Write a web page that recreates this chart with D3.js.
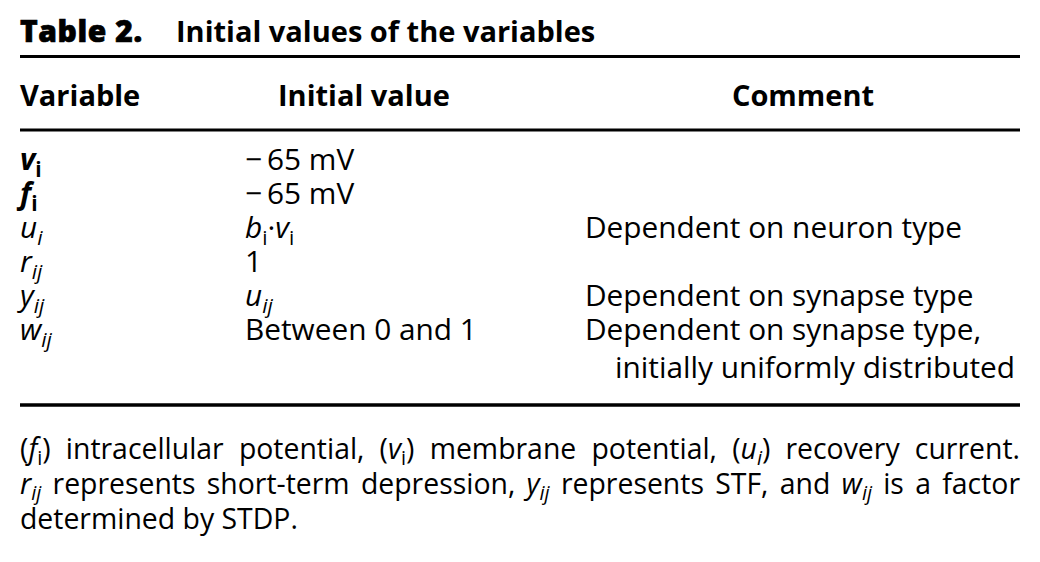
<!DOCTYPE html>
<html>
<head>
<meta charset="utf-8">
<script src="https://cdn.jsdelivr.net/npm/d3@7"></script>
<style>
  html, body { margin: 0; padding: 0; background: #fff; }
  svg text { font-family: "Open Sans", "Noto Sans", sans-serif; fill: #000; }
</style>
</head>
<body>
<div id="table2"></div>
<script>
(function()
{
    "use strict";

    // table content, small markup: <b> bold, <i> italic, <sub> subscript
    var titleLabel = "Table 2.";
    var titleText = "Initial values of the variables";
    var headers = ["Variable", "Initial value", "Comment"];

    var variables = [
        "<b><i>v</i><sub>i</sub></b>",
        "<b><i>f</i><sub>i</sub></b>",
        "<i>u<sub>i</sub></i>",
        "<i>r<sub>ij</sub></i>",
        "<i>y<sub>ij</sub></i>",
        "<i>w<sub>ij</sub></i>"
    ];
    var initialValues = [
        "\u2212\u200965 mV",
        "\u2212\u200965 mV",
        "<i>b</i><sub>i</sub>\u00b7<i>v</i><sub>i</sub>",
        "1",
        "<i>u<sub>ij</sub></i>",
        "Between 0 and 1"
    ];
    var comments = [
        [],
        [],
        ["Dependent on neuron type"],
        [],
        ["Dependent on synapse type"],
        ["Dependent on synapse type,", "initially uniformly distributed"]
    ];

    var footnoteLines = [
        "(<i>f</i><sub>i</sub>) intracellular potential, (<i>v</i><sub>i</sub>) membrane potential, (<i>u<sub>i</sub></i>) recovery current.",
        "<i>r<sub>ij</sub></i> represents short-term depression, <i>y<sub>ij</sub></i> represents STF, and <i>w<sub>ij</sub></i> is a factor",
        "determined by STDP."
    ];

    // #########################################################################
    var width = 1040, height = 562;
    var left = 20, right = 1020;
    var fs = 29.8;

    var svg = d3.select("#table2")
                .append("svg")
                .attr("width", width)
                .attr("height", height);

    // columns and rows
    var xCol = d3.scaleOrdinal()
                 .domain(["var", "val", "com"])
                 .range([left, 245, 585]);

    var yRow = d3.scaleLinear()
                 .domain([0, variables.length - 1])
                 .range([170, 340]);

    var yNote = d3.scaleLinear()
                  .domain([0, footnoteLines.length - 1])
                  .range([459, 529]);

    // parse the small markup into styled pieces
    function parse(str)
    {
        var st = {b: false, i: false, sub: false};
        var out = [];
        str.split(/(<\/?[a-z]+>)/).forEach(function(tok) {
            if (!tok) return;
            var m = tok.match(/^<(\/?)([a-z]+)>$/);
            if (m) { st[m[2]] = !m[1]; return; }
            out.push({t: tok, b: st.b, i: st.i, sub: st.sub});
        });
        return out;
    }

    function rich(textSel, str, size)
    {
        var shift = size * 0.22;
        var inSub = false;
        parse(str).forEach(function(p) {
            var ts = textSel.append("tspan").text(p.t)
                .style("font-weight", p.b ? 700 : 400)
                .style("font-style", p.i ? "italic" : "normal")
                .style("font-size", (p.sub ? size * 0.7 : size) + "px");
            if (p.sub && !inSub) ts.attr("dy", shift);
            if (!p.sub && inSub) ts.attr("dy", -shift);
            inSub = p.sub;
        });
        return textSel;
    }

    function rule(y, w)
    {
        svg.append("line")
           .attr("x1", left).attr("x2", right)
           .attr("y1", y).attr("y2", y)
           .attr("stroke", "#000")
           .attr("stroke-width", w);
    }

    // ######################## title ##########################################
    svg.append("text")
       .attr("x", left).attr("y", 42)
       .style("font-size", "30px").style("font-weight", 800)
       .style("letter-spacing", "0.6px")
       .attr("stroke", "#000").attr("stroke-width", 0.7)
       .text(titleLabel);
    svg.append("text")
       .attr("x", 176).attr("y", 42)
       .style("font-size", "29px").style("font-weight", 700)
       .text(titleText);

    rule(56.5, 3);

    // ######################## header #########################################
    var headX = [left, 278, 803];
    var headAnchor = ["start", "start", "middle"];
    svg.selectAll("text.head")
       .data(headers)
       .enter().append("text")
       .attr("class", "head")
       .attr("x", function(d, i) { return headX[i]; })
       .attr("y", 106)
       .attr("text-anchor", function(d, i) { return headAnchor[i]; })
       .style("font-size", "29px").style("font-weight", 700)
       .text(function(d) { return d; });

    rule(130, 3);

    // ######################## body ###########################################
    var rows = svg.selectAll("g.row")
                  .data(variables.map(function(v, i) {
                      return {v: v, val: initialValues[i], com: comments[i]};
                  }))
                  .enter().append("g")
                  .attr("class", "row")
                  .attr("transform", function(d, i) { return "translate(0," + yRow(i) + ")"; });

    rows.each(function(d) {
        var g = d3.select(this);
        rich(g.append("text").attr("x", xCol("var")), d.v, fs);
        rich(g.append("text").attr("x", xCol("val")), d.val, fs);
        d.com.forEach(function(c, j) {
            var t = g.append("text")
                     .attr("y", j * 38)
                     .style("font-size", fs + "px")
                     .text(c);
            if (j === 0) t.attr("x", xCol("com"));
            else t.attr("x", right - 5).attr("text-anchor", "end");
        });
    });

    rule(405, 3.5);

    // ######################## footnote (justified) ###########################
    var fnSize = 28.4;
    footnoteLines.forEach(function(line, li) {
        var g = svg.append("g").attr("transform", "translate(0," + yNote(li) + ")");
        var words = line.split(" ");
        var texts = words.map(function(w) {
            return rich(g.append("text").style("font-size", fnSize + "px"), w, fnSize);
        });
        var widths = texts.map(function(t) { return t.node().getComputedTextLength(); });
        var total = d3.sum(widths);
        var last = li === footnoteLines.length - 1;
        var gap = last ? fnSize * 0.26 : (right - left - total) / (words.length - 1);
        var x = left;
        texts.forEach(function(t, i) {
            t.attr("x", x);
            x += widths[i] + gap;
        });
    });
}
)();
</script>
</body>
</html>
